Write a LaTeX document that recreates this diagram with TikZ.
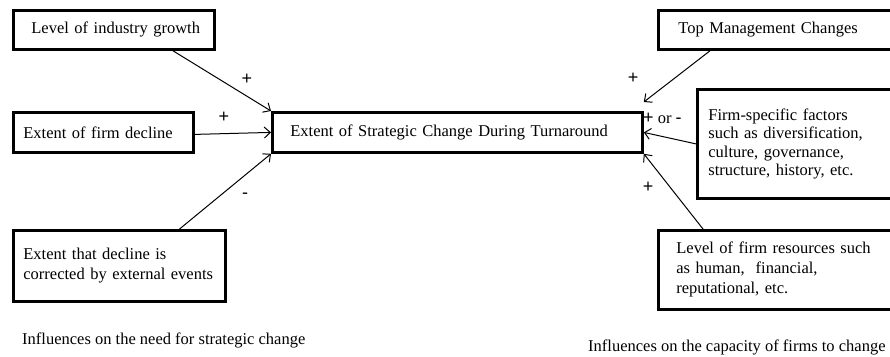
\documentclass[tikz,border=0pt]{standalone}
\usepackage{fontspec}
\setmainfont{Liberation Serif}
\newfontfamily\symfont{Liberation Sans}
\usetikzlibrary{arrows.meta,calc}
\begin{document}
\begin{tikzpicture}[x=1pt,y=-1pt,
  box/.style={draw,line width=2.8pt,align=left,anchor=north west,inner ysep=0pt,inner xsep=0pt,
    font=\fontsize{16.5}{20}\selectfont},
  lpad/.style={execute at begin node={\leftskip=#1\relax}},
  arr/.style={line width=1pt,-{Straight Barb[length=6pt,width=11pt,line width=1pt]}},
  sgn/.style={font=\fontsize{18}{20}\selectfont\symfont,inner sep=0pt},
  captxt/.style={font=\fontsize{16.5}{20}\selectfont,inner sep=0pt,anchor=west}]
\useasboundingbox (0,0) rectangle (890,356);
\begin{scope}
\clip (0,0) rectangle (890,356);
% left boxes
\node[box,lpad=18pt,text width=201pt,minimum height=39pt] (b1) at (12,9) {Level of industry growth};
\node[box,lpad=10pt,text width=180pt,minimum height=40pt] (b2) at (12,111) {Extent of firm decline};
\node[box,lpad=10pt,text width=212pt,minimum height=71pt] (b3) at (12,229) {Extent that decline is\\corrected by external events};
% center
\node[box,lpad=18pt,text width=370pt,minimum height=40pt] (c) at (271,111) {Extent of Strategic Change During Turnaround};
% right boxes
\node[box,lpad=20pt,text width=300pt,minimum height=39pt] (t) at (657,9) {Top Management Changes};
\node[box,lpad=11pt,text width=300pt,minimum height=109pt,font=\fontsize{16.5}{18.2}\selectfont] (f) at (696,88) {Firm-specific factors\\such as diversification,\\culture, governance,\\structure, history, etc.};
\node[box,lpad=18pt,text width=300pt,minimum height=79pt] (r) at (657,229) {Level of firm resources such\\as human,\ \ financial,\\reputational, etc.};
% connectors
\draw[arr] ($(b1.south west)!0.79!(b1.south east)$) -- (c.north west);
\draw[arr] ([yshift=-2pt]b2.east) -- (c.west);
\draw[arr] ($(b3.north west)!0.78!(b3.north east)$) -- (c.south west);
\coordinate (tc) at ([yshift=9pt]c.north east);
\draw[arr] ([xshift=53pt]t.south west) -- (tc);
\draw[arr] (f.west) -- (c.east);
\draw[arr] ([xshift=46pt]r.north west) -- (c.south east);
% signs
\node[sgn] (s1) at (247,79) {+};
\node[sgn] (s2) at (224,117) {+};
\node[sgn] (s3) at (245,196) {-};
\node[sgn] (s4) at (633,78) {+};
\node[captxt] (s5) at (643,118) {{\fontsize{18}{20}\selectfont\symfont +} or {\fontsize{18}{20}\selectfont\symfont -}};
\node[sgn] (s6) at (648,187) {+};
% captions
\node[captxt] (l1) at (22,340) {Influences on the need for strategic change};
\node[captxt] (l2) at (588,347) {Influences on the capacity of firms to change};
\end{scope}
\end{tikzpicture}
\end{document}
